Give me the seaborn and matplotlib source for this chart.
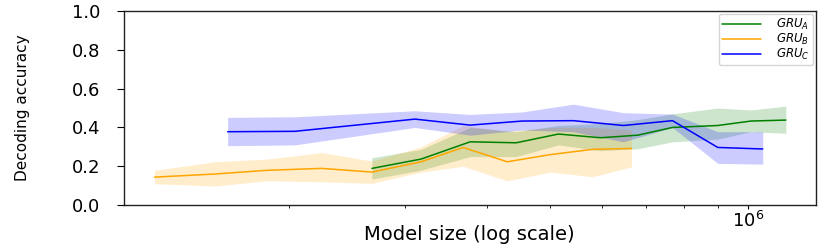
import numpy as np
import pandas as pd
import matplotlib
matplotlib.use("Agg")
import matplotlib.pyplot as plt
import seaborn as sns

# ---- data ----
series_names = ["$GRU_A$", "$GRU_B$", "$GRU_C$"]
series_colors = ["green", "orange", "blue"]

gru_a_size = [2.676e5, 3.179e5, 3.777e5, 4.439e5, 5.146e5, 5.965e5, 6.793e5, 7.680e5, 9.000e5, 1.011e6, 1.143e6]
gru_a_mean = [0.189, 0.237, 0.326, 0.321, 0.366, 0.347, 0.360, 0.400, 0.410, 0.433, 0.438]
gru_a_low  = [0.134, 0.180, 0.250, 0.250, 0.310, 0.280, 0.290, 0.326, 0.340, 0.378, 0.370]
gru_a_high = [0.244, 0.287, 0.400, 0.378, 0.410, 0.420, 0.440, 0.470, 0.500, 0.490, 0.510]

gru_b_size = [1.248e5, 1.541e5, 1.850e5, 2.244e5, 2.676e5, 3.179e5, 3.685e5, 4.301e5, 5.003e5, 5.799e5, 6.650e5]
gru_b_mean = [0.144, 0.160, 0.179, 0.189, 0.170, 0.223, 0.297, 0.223, 0.260, 0.287, 0.292]
gru_b_low  = [0.110, 0.098, 0.125, 0.120, 0.112, 0.170, 0.200, 0.125, 0.170, 0.146, 0.197]
gru_b_high = [0.179, 0.223, 0.237, 0.270, 0.227, 0.300, 0.410, 0.380, 0.400, 0.400, 0.387]

gru_c_size = [1.613e5, 2.041e5, 3.112e5, 3.777e5, 4.534e5, 5.425e5, 6.466e5, 7.680e5, 9.000e5, 1.054e6]
gru_c_mean = [0.378, 0.380, 0.443, 0.412, 0.433, 0.435, 0.410, 0.435, 0.297, 0.289]
gru_c_low  = [0.306, 0.310, 0.400, 0.360, 0.387, 0.378, 0.326, 0.400, 0.215, 0.211]
gru_c_high = [0.452, 0.455, 0.486, 0.467, 0.480, 0.520, 0.476, 0.469, 0.378, 0.378]

y_ticks = [0.0, 0.2, 0.4, 0.6, 0.8, 1.0]
x_label = "Model size (log scale)"
y_label = "Decoding accuracy"

sizes = [gru_a_size, gru_b_size, gru_c_size]
means = [gru_a_mean, gru_b_mean, gru_c_mean]
lows = [gru_a_low, gru_b_low, gru_c_low]
highs = [gru_a_high, gru_b_high, gru_c_high]

frames = []
for name, s, m, lo, hi in zip(series_names, sizes, means, lows, highs):
    frames.append(pd.DataFrame({"size": s, "acc": m, "low": lo, "high": hi, "model": name}))
df = pd.concat(frames, ignore_index=True)

sns.set_style("ticks")
plt.rcParams["font.family"] = ["DejaVu Sans"]
plt.rcParams["text.color"] = "black"
plt.rcParams["xtick.color"] = "black"
plt.rcParams["ytick.color"] = "black"
plt.rcParams["axes.labelcolor"] = "black"

fig = plt.figure(figsize=(8.3, 2.45), dpi=100)
ax = fig.add_axes([0.149, 0.163, 0.834, 0.792])

palette = dict(zip(series_names, series_colors))
sns.lineplot(data=df, x="size", y="acc", hue="model", palette=palette,
             hue_order=series_names, errorbar=None, linewidth=1.1, ax=ax)
for name, col in zip(series_names, series_colors):
    d = df[df["model"] == name]
    ax.fill_between(d["size"], d["low"], d["high"], color=col, alpha=0.2, linewidth=0)

ax.set_xscale("log")
ax.set_xlim(1.12e5, 1.27e6)
ax.set_ylim(0, 1.0)
ax.set_yticks(y_ticks)
ax.set_yticklabels([f"{v:.1f}" for v in y_ticks])
ax.tick_params(axis="y", labelsize=13, length=5, width=0.8, pad=12)
ax.tick_params(axis="x", which="major", labelsize=13, length=3, width=0.8, pad=1)
ax.tick_params(axis="x", which="minor", length=2, width=0.6)
ax.xaxis.set_minor_formatter(matplotlib.ticker.NullFormatter())

for sp in ax.spines.values():
    sp.set_visible(True)
    sp.set_color("#222222")
    sp.set_linewidth(1.0)

ax.set_xlabel(x_label, fontsize=14)
ax.xaxis.set_label_coords(0.5, -0.105)
ax.set_ylabel(y_label, fontsize=11)
ax.yaxis.set_label_coords(-0.136, 0.5)

leg = ax.legend(loc="upper right", fontsize=8.5, frameon=True, handlelength=3.3,
                borderpad=0.25, labelspacing=0.0, handletextpad=1.3,
                borderaxespad=0.25)
leg.set_title(None)
leg.get_frame().set_edgecolor("#cccccc")

fig.savefig("out.png", dpi=100)
